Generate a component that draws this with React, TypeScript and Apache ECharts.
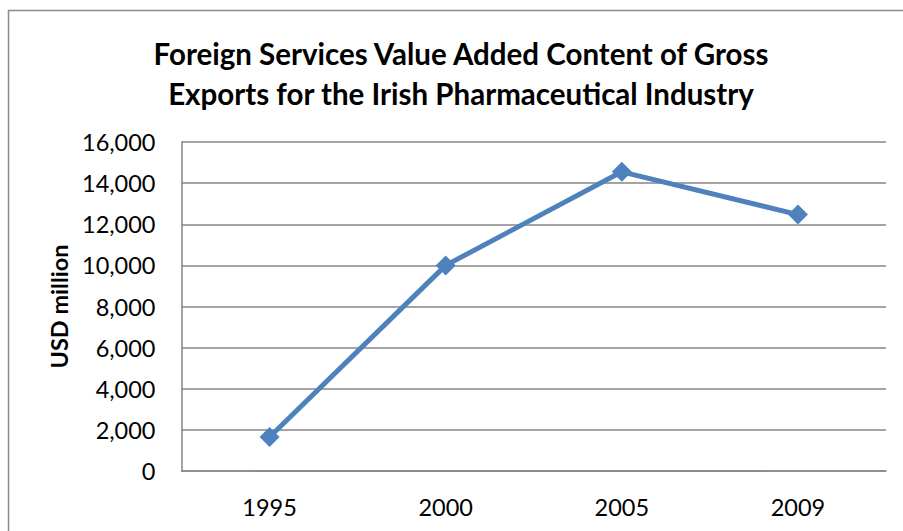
import React, { useEffect, useRef } from "react";
import * as echarts from "echarts";

const titleLines = [
  "Foreign Services Value Added Content of Gross",
  "Exports for the Irish Pharmaceutical Industry",
];
const categories = ["1995", "2000", "2005", "2009"];
const values = [1650, 10000, 14550, 12470];
const yAxisName = "USD million";

export default function App() {
  const ref = useRef<HTMLDivElement>(null);
  useEffect(() => {
    document.body.style.margin = "0";
    const chart = echarts.init(ref.current!, null, { renderer: "svg" });
    chart.setOption({
      animation: false,
      backgroundColor: "#ffffff",
      textStyle: { fontFamily: "Lato" },
      graphic: [
        {
          type: "rect",
          shape: { x: 8.5, y: 10.5, width: 1200, height: 1200 },
          style: { fill: "none", stroke: "#8a8a8a", lineWidth: 1.5 },
          silent: true,
        },
        {
          type: "text",
          x: 461,
          y: 33,
          silent: true,
          style: {
            text: titleLines.join("\n"),
            fontFamily: "Lato",
            fontWeight: "bold",
            fontSize: 29.5,
            lineHeight: 40,
            fill: "#000000",
            align: "center",
            verticalAlign: "top",
          },
        },
      ],
      grid: { left: 181.5, right: 17, top: 142, bottom: 60 },
      xAxis: {
        type: "category",
        data: categories,
        boundaryGap: true,
        axisLine: { show: true, lineStyle: { color: "#868686", width: 1.5 } },
        axisTick: { show: false },
        axisLabel: { color: "#000000", fontSize: 23.5, fontFamily: "Lato", margin: 24 },
      },
      yAxis: {
        type: "value",
        min: 0,
        max: 16000,
        interval: 2000,
        name: yAxisName,
        nameLocation: "middle",
        nameGap: 110,
        nameTextStyle: { fontFamily: "Lato", fontWeight: "bold", fontSize: 23.5, color: "#000000" },
        axisLine: { show: true, lineStyle: { color: "#868686", width: 1.5 } },
        axisTick: { show: false },
        axisLabel: {
          color: "#000000",
          fontSize: 23.5,
          fontFamily: "Lato",
          margin: 26,
          formatter: (v: number) => v.toLocaleString("en-US"),
        },
        splitLine: { show: true, lineStyle: { color: "#868686", width: 1.5 } },
      },
      series: [
        {
          type: "line",
          data: values,
          symbol: "diamond",
          symbolSize: 20,
          lineStyle: { color: "#4F81BD", width: 5 },
          itemStyle: { color: "#4F81BD" },
        },
      ],
    });
    return () => chart.dispose();
  }, []);
  return <div ref={ref} style={{ width: 903, height: 531 }} />;
}
